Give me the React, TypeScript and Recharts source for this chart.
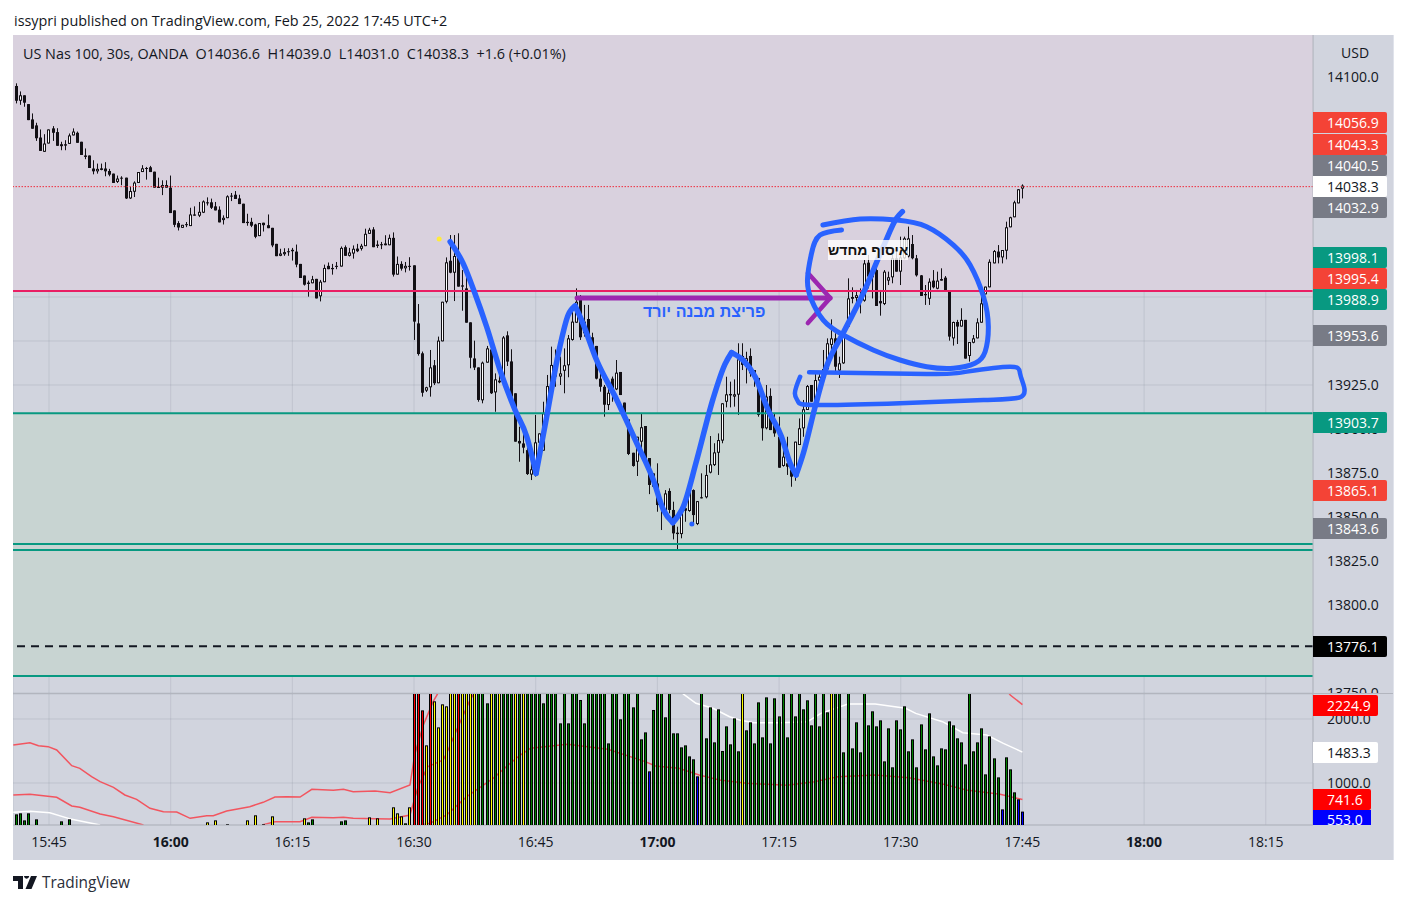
import { Bar, CartesianGrid, ComposedChart, Line, ReferenceArea, ReferenceDot, ReferenceLine, XAxis, YAxis } from 'recharts'

const FONT = "'Open Sans', Roboto, sans-serif"

// one slot = one 30s candle, slot 0 = 15:45
const FIRST_SLOT = -8
const X_DOMAIN = [-8.876, 311.64]
const TIME_TICKS = [0, 30, 60, 90, 120, 150, 180, 210, 240, 270, 300]
const TIME_LABELS = ['15:45', '16:00', '16:15', '16:30', '16:45', '17:00', '17:15', '17:30', '17:45', '18:00', '18:15']
const BOLD_TIMES = ['16:00', '17:00', '18:00']
const PRICE_TICKS = [13750, 13775, 13800, 13825, 13850, 13875, 13900, 13925, 13950, 13975, 14000, 14025, 14050, 14075, 14100]
const PRICE_DOMAIN = [13750, 14123.86]
const VOL_TICKS = [1000, 2000]
const VOL_DOMAIN = [343.75, 2390.6]

// open, high, low, close
const CANDLES = [
  [14094.9, 14096.4, 14085, 14086.5], [14086.5, 14091.8, 14084.2, 14089.6], [14089.6, 14089.6, 14083.1, 14085.4], [14084.6, 14084.6, 14075.5, 14075.5],
  [14075.9, 14079.3, 14070.6, 14070.6], [14072.5, 14074, 14063.7, 14065.2], [14065.6, 14070.2, 14058, 14058], [14057.5, 14067.5, 14057.5, 14062.2],
  [14062.2, 14070.2, 14062.2, 14070.2], [14070.8, 14072.1, 14063.7, 14068.3], [14068.7, 14070.9, 14060.9, 14060.9], [14061.8, 14063.2, 14058.4, 14060.7],
  [14061.8, 14064.1, 14058.4, 14061], [14062, 14067.9, 14062, 14066.8], [14066.8, 14070.8, 14066.8, 14069], [14068.3, 14069, 14062.6, 14062.6],
  [14063.2, 14063.2, 14055.7, 14055.7], [14055.4, 14059.4, 14053.3, 14054.6], [14055.4, 14055.4, 14048.3, 14048.3], [14048, 14052.7, 14044.7, 14046.4],
  [14046.4, 14050.8, 14045.1, 14047.8], [14048.1, 14050.8, 14047, 14047.2], [14048, 14051.6, 14043.6, 14046.4], [14046.6, 14047.8, 14043.6, 14044.5],
  [14045.1, 14045.1, 14039.8, 14039.8], [14040.4, 14044, 14039.8, 14042.3], [14042.8, 14043.6, 14038.5, 14042.3], [14042.8, 14042.8, 14030.7, 14031],
  [14031, 14037.5, 14030.7, 14035.2], [14034.8, 14040.7, 14031.8, 14040], [14039.8, 14046, 14039.8, 14046], [14046, 14049.9, 14046, 14048.1],
  [14048.3, 14048.9, 14041.7, 14047.8], [14048.7, 14049.5, 14046, 14046], [14046.2, 14046.2, 14037.1, 14037.1], [14037.5, 14042.8, 14037.1, 14037.1],
  [14037.1, 14041.3, 14032.9, 14038.6], [14038.6, 14041.3, 14037.1, 14037.1], [14037.1, 14044, 14022.7, 14022.7], [14024.2, 14024.2, 14014.7, 14016],
  [14017, 14018.1, 14012.8, 14014.5], [14014.3, 14016, 14014.3, 14016], [14016.4, 14017.6, 14014.7, 14015.8], [14015.3, 14025.7, 14015.3, 14021.9],
  [14021.9, 14026.5, 14021.2, 14021.2], [14021.2, 14029, 14020.4, 14023.4], [14022.9, 14029.9, 14022.7, 14029.3], [14028.8, 14031.6, 14027, 14028.2],
  [14028.8, 14030.9, 14025, 14025.7], [14026.5, 14029, 14024.2, 14024.2], [14024.6, 14026.5, 14017.4, 14017.4], [14018.7, 14021.4, 14016.2, 14020],
  [14019.8, 14032.8, 14019.8, 14032.2], [14032.6, 14034.1, 14029.5, 14032.2], [14033.1, 14035.2, 14030.7, 14030.7], [14031, 14033.1, 14027.8, 14027.8],
  [14028, 14028, 14017, 14017], [14017.7, 14022.3, 14015.5, 14017], [14017.7, 14020, 14014.7, 14015.5], [14016.2, 14016.6, 14008.4, 14009.2],
  [14009.6, 14017, 14009.6, 14017], [14017.2, 14017.2, 14012.2, 14015.8], [14015.8, 14021.9, 14014.1, 14014.1], [14014.3, 14014.3, 14003.3, 14004.3],
  [14005.2, 14005.2, 13998.2, 13998.2], [13998.4, 14002.4, 13998.2, 13999.7], [13999.3, 14002.7, 13998.4, 14000.5], [14001, 14002.7, 13998.4, 14000.5],
  [14001.8, 14002.9, 13995.7, 14001], [14000.8, 14004.8, 13991.9, 13993.4], [13993.8, 13993.8, 13985.8, 13985.8], [13987.2, 13987.2, 13981.5, 13982],
  [13983.2, 13984.3, 13975.2, 13982.4], [13982.8, 13987, 13982.8, 13985.1], [13985.3, 13985.3, 13974.2, 13974.2], [13975.4, 13984.7, 13972.5, 13983.7],
  [13983.4, 13993.4, 13983.4, 13991.5], [13992.7, 13994.6, 13990.8, 13990.8], [13991.5, 13993.8, 13987.7, 13990.8], [13992.7, 13994.9, 13990.8, 13992.1],
  [13992.3, 14003.7, 13992.3, 14002.9], [14003.3, 14004.3, 13998.4, 13998.4], [13998.4, 14002.9, 13998, 14000.3], [13999.7, 14004.3, 13996.8, 14002.4],
  [14002.5, 14005.2, 14000.5, 14001], [14002.4, 14005.2, 14001.4, 14004.1], [14003.9, 14013.8, 14003.9, 14010.9], [14010.9, 14014.3, 14010.9, 14013.2],
  [14013.4, 14014.7, 14003.3, 14003.3], [14004.8, 14007.1, 14002.9, 14004], [14005, 14006.3, 14002.2, 14004.4], [14005.4, 14010.1, 14004.4, 14004.4],
  [14004.4, 14010.5, 14004.4, 14008.6], [14008.6, 14011.7, 13986.6, 13987.7], [13987.7, 13998, 13987.7, 13993.8], [13993.8, 13995.3, 13990, 13991.1],
  [13991.3, 13994.9, 13989, 13992.7], [13992.7, 13997.6, 13990, 13992.1], [13993, 13993, 13950.6, 13961], [13960, 13971, 13941.7, 13942.6],
  [13943, 13944, 13918.4, 13920.6], [13921.8, 13924, 13921, 13923.7], [13923.7, 13944.9, 13918.4, 13935], [13936.2, 13939.2, 13925, 13926],
  [13926, 13952.5, 13926, 13950.2], [13949.8, 13972.3, 13949.8, 13972.3], [13972.3, 13997.5, 13971.4, 13994.7], [13995.6, 14010.2, 13988.5, 13988.8],
  [13988.8, 14010.2, 13972.7, 13998.3], [13998.3, 14011.2, 13980.9, 13980.9], [13981.6, 13990.3, 13967.2, 13980.9], [13979.9, 13987.5, 13960.4, 13960.4],
  [13960.6, 13960.6, 13934.5, 13940.5], [13940.1, 13950.2, 13933.5, 13934.9], [13935, 13935, 13915.5, 13916.5], [13916.3, 13938.3, 13914.6, 13937.7],
  [13937.7, 13947.2, 13937.7, 13945.8], [13945.2, 13945.2, 13919.9, 13920.3], [13920.8, 13931.6, 13909.8, 13928.2], [13926.5, 13937.3, 13926, 13927.5],
  [13928.2, 13952.8, 13927.8, 13952], [13953.2, 13955.5, 13935.8, 13938.3], [13938.4, 13945.3, 13918.4, 13918.4], [13920.3, 13920.3, 13892.8, 13892.8],
  [13893.2, 13901.3, 13881.4, 13891.8], [13891.8, 13897.5, 13886.2, 13889.4], [13888, 13890, 13873.9, 13874.4], [13874.1, 13880.5, 13871, 13877.1],
  [13873.9, 13908, 13873, 13892.4], [13892.2, 13897.5, 13892.2, 13897.5], [13887.7, 13915.5, 13887.7, 13908.9], [13908.9, 13930.7, 13908.5, 13924.4],
  [13924, 13946.8, 13923.6, 13936.4], [13937.3, 13945.2, 13924, 13929.8], [13929.8, 13941.1, 13925, 13931.6], [13933.1, 13945.8, 13920.3, 13936.2],
  [13936.2, 13953.4, 13929.4, 13951.5], [13950.6, 13968.6, 13950.2, 13961], [13960.4, 13979.9, 13960.4, 13972.3], [13973.3, 13976.1, 13950.6, 13952.1],
  [13954.4, 13970.5, 13952.5, 13961], [13962.5, 13970.5, 13950.6, 13952.1], [13952.1, 13954.7, 13944.9, 13945.6], [13947.2, 13947.2, 13928.2, 13928.6],
  [13928.6, 13931.6, 13921.2, 13924], [13924, 13925, 13907, 13913.8], [13913.6, 13924, 13910.8, 13920.6], [13928.6, 13929.8, 13915.5, 13919.9],
  [13922.5, 13939.2, 13922.1, 13932], [13932.4, 13932.4, 13919.3, 13919.3], [13915, 13915, 13908.5, 13908.5], [13905.5, 13905.5, 13885.2, 13885.8],
  [13886.5, 13886.5, 13878.6, 13879], [13881.4, 13895.6, 13873.3, 13895.6], [13892.8, 13908.9, 13886.2, 13901], [13901.7, 13901.7, 13882.4, 13883.3],
  [13883.5, 13883.5, 13863, 13868.2], [13874.8, 13874.8, 13867.2, 13867.2], [13869.1, 13880.5, 13853, 13856.8], [13857.4, 13859.3, 13842.6, 13856.6],
  [13853.6, 13865.3, 13853, 13863.4], [13864.8, 13866.3, 13852.1, 13854], [13854, 13858.7, 13837.3, 13840.7], [13841.1, 13844.5, 13831.6, 13840.3],
  [13840.3, 13854, 13837.9, 13854], [13855, 13863.4, 13847.3, 13853.6], [13853.4, 13868.2, 13853, 13864.2], [13865.3, 13865.7, 13845.4, 13851.1],
  [13846, 13859, 13845.4, 13859], [13861.2, 13874.8, 13860.6, 13860.6], [13861.2, 13879.5, 13860.6, 13873.9], [13875.2, 13896, 13874.8, 13879.9],
  [13879.5, 13891.9, 13879, 13886.7], [13886.5, 13897.5, 13873.9, 13893.7], [13893.4, 13914.6, 13891.9, 13914.6], [13915.5, 13929.7, 13912.3, 13919.7],
  [13919.9, 13926.9, 13912.3, 13919.1], [13918.4, 13928.2, 13912.7, 13919.7], [13919.5, 13948.7, 13908, 13939.6], [13941.5, 13948.7, 13933.5, 13936.4],
  [13935.4, 13943.9, 13925.9, 13940.2], [13941.5, 13945.8, 13929.7, 13931.6], [13933.5, 13933.5, 13924, 13928.8], [13929, 13929, 13907, 13908],
  [13918.4, 13918.4, 13893.4, 13900.4], [13900.4, 13925, 13899.8, 13918.4], [13918.8, 13923.1, 13899.4, 13899.4], [13905.1, 13908.9, 13895.6, 13897.5],
  [13895.6, 13907, 13878, 13878], [13879, 13890, 13878.6, 13884.3], [13880.5, 13895.6, 13873.9, 13878.6], [13876.7, 13880.5, 13867.2, 13872.9],
  [13875.8, 13892.8, 13870.6, 13892.8], [13890.9, 13906, 13890.9, 13900.4], [13900.4, 13916.5, 13895.6, 13911.2], [13910.8, 13925, 13910.8, 13924.4],
  [13925, 13925, 13915.5, 13915.5], [13916.5, 13931.6, 13915.5, 13927.8], [13927.5, 13931.6, 13922.2, 13929.7], [13928.8, 13944.9, 13927.8, 13934.1],
  [13933.9, 13951.5, 13933.5, 13948.7], [13947.8, 13962.3, 13941.1, 13951.5], [13951.5, 13954.4, 13932.8, 13935.4], [13933.2, 13941.1, 13929, 13937.3],
  [13937.3, 13954.4, 13937, 13954.4], [13958.2, 13985.6, 13957.8, 13974.2], [13975, 13980.5, 13971.4, 13974], [13974.4, 13979, 13971.4, 13976],
  [13975.6, 13979.9, 13965.7, 13972.3], [13972.9, 13996, 13972.3, 13994.1], [13994.5, 13998.9, 13979.9, 13986.6], [13986.2, 13990.3, 13974.2, 13988.5],
  [13990.3, 13992.2, 13969.9, 13969.9], [13972.7, 13979, 13964.4, 13971.4], [13971, 13990.3, 13970.4, 13989.4], [13984.3, 13989.4, 13981.8, 13986.2],
  [13986.2, 13998.9, 13982.8, 13997], [13997, 14001.7, 13989.4, 13989.4], [13989.4, 14009.3, 13981.8, 13997.5], [13997, 14009.3, 13996.4, 14008.3],
  [13998, 14015, 13997.5, 14008.3], [14005.1, 14010.2, 13996.4, 13997], [13997, 13998.9, 13986.6, 13987.3], [13987.3, 13987.5, 13975.6, 13975.6],
  [13976.7, 13981.8, 13970.5, 13976], [13974, 13985.6, 13970.5, 13983.7], [13984.3, 13990.3, 13979.9, 13980.5], [13979.7, 13989.4, 13979.4, 13984.3],
  [13985.2, 13991.3, 13984.3, 13984.3], [13986, 13986.9, 13978, 13978], [13978, 13978, 13950.2, 13952.5], [13951.5, 13961, 13947.4, 13960.8],
  [13960.8, 13962, 13948.3, 13958.2], [13958.2, 13968.6, 13958.2, 13962], [13962, 13962, 13940, 13940], [13941.5, 13949.4, 13938.3, 13949.4],
  [13949, 13953.4, 13948.7, 13951.5], [13951.5, 13962.9, 13951.5, 13960.6], [13960.4, 13981.8, 13960.4, 13971.4], [13976.5, 13980.9, 13976.5, 13980.9],
  [13980.5, 13996.4, 13980.5, 13995], [13994.1, 14001.7, 13994.1, 14001.1], [14000.8, 14004.5, 13994.1, 13997.5], [13997.5, 14001.7, 13994.1, 14001.7],
  [14001.3, 14017.8, 13996.4, 14014.6], [14014.6, 14020.6, 14014.6, 14020.3], [14020.3, 14029.7, 14020.3, 14028.8], [14028.2, 14036.2, 14028.2, 14036.2],
  [14036.6, 14039, 14031, 14038.3],
]

// slot, volume: the quiet stretch before the 16:30 open
const VOL_EARLY = [
  [-8, 510], [-7, 526], [-6, 416], [-5, 526], [-3, 432], [3, 401], [5, 432], [39, 385], [41, 416], [44, 354], [49, 416], [51, 495], [53, 354], [55, 479],
  [63, 448], [64, 385], [65, 432], [72, 401], [73, 416], [79, 463], [81, 448], [85, 620], [86, 526], [87, 479], [88, 370], [89, 620],
]
// every slot from 16:30 on; 2600 runs off the top of the pane
const VOL_LATE_START = 90
const VOL_LATE = [
  2600, 2600, 2135, 1588, 2600, 2276, 1869, 2229, 2198, 2600, 2600, 2600, 2600, 2600, 2600, 2600, 2600, 2600, 2245, 2600,
  2600, 2600, 2600, 2600, 2600, 2600, 2600, 2600, 2600, 2600, 2600, 2600, 2245, 2600, 2600, 2600, 1932, 2600, 1932, 2600,
  2600, 2297, 1932, 2600, 2600, 2600, 2600, 2600, 1619, 2600, 2600, 1995, 2600, 2600, 2182, 2600, 1682, 1791, 1182, 2141,
  2600, 2600, 2026, 2600, 1776, 1776, 1557, 1588, 1416, 1370, 1104, 2600, 1698, 2182, 1635, 2151, 1500, 1885, 1604, 2010,
  1495, 2600, 1823, 1948, 1619, 2260, 1713, 2338, 1619, 2323, 2041, 2600, 1713, 2600, 2041, 2600, 2151, 2292, 1901, 2600,
  1885, 2600, 2104, 2600, 2600, 2600, 1479, 2600, 1541, 1948, 1479, 2600, 1901, 2120, 1885, 1979, 1338, 1854, 1245, 1979,
  1838, 2198, 1495, 1682, 1245, 1916, 1526, 2088, 1416, 1276, 1541, 1526, 1963, 1901, 1698, 1635, 1291, 2600, 1495, 1635,
  1854, 1135, 1729, 1385, 1088, 588, 1401, 1213, 854, 745, 553,
]
const VOL_YELLOW = [39, 41, 49, 51, 55, 63, 79, 81, 85, 86, 87, 89, 93, 95, 96, 97, 98, 99, 100, 102, 103, 104, 105, 109, 111, 115, 117, 171, 193]
const VOL_RED = [90, 91, 92, 94, 101]
const VOL_BLUE = [148, 160, 235, 239, 240]

// volume moving-average bands: slot, value
const BAND_TOP = [[-8.8, 1594], [-4.7, 1630], [-2.6, 1583], [-0.2, 1568], [1.9, 1516], [5.6, 1271], [7.6, 1229], [10.5, 1099], [12.6, 1021], [15.9, 932], [18.7, 813], [21.6, 745], [24.9, 604], [28.2, 552], [31.5, 547], [34.8, 448], [38.9, 490], [40.5, 490], [43.8, 563], [49.5, 630], [52.8, 698], [55.7, 781], [58.6, 787], [61.9, 781], [64.8, 901], [70.1, 886], [72.6, 901], [75, 865], [80.4, 875], [84.1, 849], [89, 969], [90.2, 1453], [92.3, 1906], [94.7, 2271], [95.7, 2380], [97.2, 2600]]
const BAND_TOP_END = [[236.5, 2420], [237, 2375], [240, 2224.9]]
const BAND_MID = [[-8.8, 812], [-4.7, 823], [1.9, 776], [5.6, 641], [7.6, 620], [12.6, 516], [15.9, 474], [23.3, 344]]
const BAND_MID_RISE = [[52.8, 349], [55.7, 396], [61.9, 396], [64.8, 463], [70.1, 458], [72.6, 463], [75, 448], [80.4, 443], [84.1, 438], [89, 500], [91, 943], [93.4, 1255], [97.2, 1359], [98.4, 1516], [100.5, 1828], [103.8, 2297], [105, 2420]]
const BAND_LOW = [[92, 344], [93.9, 370], [98, 500], [103, 786], [109.5, 1073], [113.7, 1307], [116.2, 1437], [118.7, 1542], [127.8, 1604], [137.8, 1526], [147, 1334], [149.5, 1266], [155.3, 1229], [160.3, 1125], [165.3, 1047], [172, 995], [182, 963], [188.7, 1021], [194.5, 1099], [203.7, 1125], [212, 1083], [220.3, 984], [226.2, 891], [234.5, 823], [240, 741.6]]
const BAND_WHITE = [[-8.8, 542], [-4.7, 557], [0.2, 536], [5.6, 432], [12.6, 344]]
const BAND_WHITE_END = [[155.5, 2440], [156.6, 2380], [159.5, 2245], [163.7, 2167], [167.8, 2036], [170.3, 1984], [173.7, 1943], [180.3, 1943], [187, 1958], [190.3, 2088], [197, 2234], [203.7, 2234], [211.2, 2167], [213.7, 2088], [220.3, 1958], [225.3, 1786], [231.2, 1750], [235.3, 1619], [240, 1483.3]]

// hand drawn ink on the chart, in slot / price
const INK_WAVE_1 = [[98.9, 14006.4], [102.1, 13994.1], [105, 13977.1], [107.9, 13958.1], [111.2, 13933.5], [114.9, 13910.8], [117.8, 13895.6], [120.1, 13874.8]]
const INK_WAVE_2 = [[120.1, 13874.8], [122.7, 13907], [125.6, 13943], [128, 13964.8], [129.7, 13969.9]]
const INK_WAVE_3 = [[129.7, 13969.9], [131.3, 13961.9], [135, 13939.2], [140, 13916.5], [144.9, 13892], [149, 13871], [151.5, 13854], [153.8, 13846.8]]
const INK_WAVE_4 = [[153.8, 13846.8], [156.4, 13855.9], [159.7, 13882.4], [163.7, 13917], [166.7, 13937], [168.3, 13943.4]]
const INK_WAVE_5 = [[168.3, 13943.4], [171.1, 13939.2], [174.1, 13929.7], [177.3, 13910.8], [180.6, 13895.6], [182.7, 13880.7], [184.2, 13873.9]]
const INK_WAVE_6 = [[184.2, 13873.9], [186, 13886.4], [188.9, 13912.7], [191.7, 13935.4], [195.8, 13954.5], [200.8, 13977.3], [205.7, 14003.6], [209, 14019.9], [210.4, 14023.5]]
const INK_CIRCLE = [[190.8, 14015.9], [200, 14019.3], [209, 14018.7], [216.4, 14014.9], [223, 14004.5], [227.1, 13993.2], [230.4, 13975.2], [231.6, 13958.1], [230.8, 13943.9], [228.3, 13937.3], [223, 13934.5], [216.4, 13935.4], [209.8, 13939.2], [203.2, 13944.9], [195.8, 13953.4], [190.9, 13961.9], [188, 13973.3], [187, 13984.7], [188, 13999.8], [190.1, 14010.2], [195.4, 14013.1]]
const INK_BOX = [[187.4, 13932.2], [216.4, 13931.2], [226.3, 13932.6], [236.9, 13935.4], [239.4, 13931.6], [240.4, 13924], [239.4, 13918], [230.4, 13916.5], [209.8, 13914.6], [188.9, 13913.6], [184.7, 13915.5], [183.9, 13920.3], [185.2, 13929.7]]
const INK_ARROW = [[130.2, 13974.4], [192.6, 13974.4]]
const INK_HEAD = [[187.1, 13988.6], [192.6, 13974.4], [187.1, 13960.2]]
const INK_BLUE_DOT = [158.5, 13846]
const INK_YELLOW_DOT = [96.2, 14008]

// horizontal levels
const LEVEL_PINK = 13978.4
const LEVEL_GREEN = [13909, 13834.7, 13831.2, 13759.7]
const LEVEL_DASHED = 13776.5
const LEVEL_LAST = 14037.7

const PRICE_TAGS = ['14056.9', '14043.3', '14040.5', '14038.3', '14032.9', '13998.1', '13995.4', '13988.9', '13953.6', '13903.7', '13865.1', '13843.6', '13776.1']
const PRICE_TAG_KIND = ['red', 'red', 'gray', 'white', 'gray', 'teal', 'red', 'teal', 'gray', 'teal', 'red', 'gray', 'black']
const PRICE_TAG_Y = [122.5, 144.5, 165.5, 186.5, 207.5, 257.5, 278.5, 299.5, 335.5, 422.5, 490.5, 528.5, 646.5]
const VOL_TAGS = ['2224.9', '1483.3', '741.6']
const VOL_TAG_KIND = ['pure', 'white', 'pure']
const VOL_TAG_Y = [705.5, 752.5, 799.5]
const VOL_TAG_W = [65, 65, 58]

const TAG_COLORS: Record<string, string[]> = {
  red: ['#f44336', '#fff'], gray: ['#787b86', '#fff'], white: ['#fff', '#131722'], teal: ['#089981', '#fff'],
  black: ['#000', '#fff'], pure: ['#ff0000', '#fff'],
}

const candleRows = CANDLES.map((c, i) => ({ t: i + FIRST_SLOT, open: c[0], high: c[1], low: c[2], close: c[3] }))
const volRows = [
  ...VOL_EARLY.map(([t, v]) => ({ t, v })),
  ...VOL_LATE.map((v, i) => ({ t: i + VOL_LATE_START, v })),
].map((r) => ({
  ...r,
  color: VOL_RED.includes(r.t) ? '#ff0000' : VOL_BLUE.includes(r.t) ? '#0000ff' : VOL_YELLOW.includes(r.t) ? '#ffff00' : '#008000',
}))
const rows = (pts: number[][]) => pts.map(([t, v]) => ({ t, v }))

function CandleShape(props: any) {
  const { x, y, width, height, payload } = props
  const cx = Math.floor(x + width / 2)
  const perPoint = height / Math.max(payload.high - payload.low, 0.01)
  const top = y + (payload.high - Math.max(payload.open, payload.close)) * perPoint
  const bodyH = Math.max(Math.abs(payload.open - payload.close) * perPoint, 1)
  const up = payload.close >= payload.open
  return (
    <g>
      <rect x={cx} y={y} width={1} height={height} fill="#131015" />
      <rect x={cx - 1} y={top} width={3} height={bodyH} fill="#131015" />
      {up && bodyH > 2 && <rect x={cx} y={top + 1} width={1} height={bodyH - 2} fill="#fff" />}
    </g>
  )
}

function VolumeShape(props: any) {
  const { x, y, width, height, payload } = props
  const cx = Math.floor(x + width / 2)
  return (
    <g>
      <rect x={cx - 1} y={y} width={3} height={height} fill="#000" />
      <rect x={cx} y={y + 1} width={1} height={Math.max(height - 1, 0)} fill={payload.color} />
    </g>
  )
}

function TimeTick({ x, y, payload }: any) {
  const label = TIME_LABELS[TIME_TICKS.indexOf(payload.value)]
  return (
    <text x={x} y={y + 14} textAnchor="middle" fontFamily={FONT} fontSize={14} fill="#131722" fontWeight={BOLD_TIMES.includes(label) ? 700 : 400}>
      {label}
    </text>
  )
}

function Ink({ pts, color = '#2962ff', width = 5.5, type = 'natural' }: any) {
  return <Line key={pts[0].join()} data={rows(pts)} dataKey="v" type={type} stroke={color} strokeWidth={width} strokeLinecap="round" strokeLinejoin="round" dot={false} activeDot={false} isAnimationActive={false} />
}

function Tag({ text, kind, y, width = 74 }: any) {
  const [bg, fg] = TAG_COLORS[kind]
  return (
    <div style={{ position: 'absolute', left: 1313, top: y - 10.5, width, height: 21, background: bg, color: fg, font: `14px ${FONT}`, lineHeight: '21px', paddingLeft: 14, boxSizing: 'border-box', borderRadius: '0 2px 2px 0', whiteSpace: 'nowrap' }}>
      {text}
    </div>
  )
}

export default function App() {
  return (
    <div style={{ position: 'absolute', left: 0, top: 0, width: 1406, height: 904, background: '#fff', overflow: 'hidden', fontFamily: FONT, color: '#131722' }}>
      <div style={{ position: 'absolute', left: 14, top: 11, fontSize: 14.4 }}>issypri published on TradingView.com, Feb 25, 2022 17:45 UTC+2</div>
      <div style={{ position: 'absolute', left: 13, top: 35, width: 1380, height: 825, background: '#d1d4de', boxShadow: '1px 0 0 #e0e3eb' }} />

      <div style={{ position: 'absolute', left: 13, top: 35 }}>
        <ComposedChart width={1380} height={658} data={candleRows} margin={{ top: 0, right: 0, bottom: 0, left: 0 }}>
          <ReferenceArea y1={LEVEL_PINK} y2={PRICE_DOMAIN[1]} fill="#d9d1de" fillOpacity={1} stroke="none" />
          <ReferenceArea y1={LEVEL_GREEN[3]} y2={LEVEL_GREEN[0]} fill="#c8d4d2" fillOpacity={1} stroke="none" />
          <CartesianGrid stroke="#6a6e80" strokeOpacity={0.16} />
          <XAxis type="number" dataKey="t" domain={X_DOMAIN} ticks={TIME_TICKS} allowDataOverflow hide />
          <YAxis orientation="right" width={80} domain={PRICE_DOMAIN} ticks={PRICE_TICKS} interval={0} allowDataOverflow tickLine={false} tickMargin={8} stroke="#b2b5be" tick={{ fill: '#131722', fontSize: 14, fontFamily: FONT }} tickFormatter={(v: number) => v.toFixed(1)} />
          <Bar dataKey={(d: any) => [d.low, d.high]} barSize={3} shape={CandleShape} isAnimationActive={false} />
          <ReferenceLine y={LEVEL_LAST} stroke="#ef2b3c" strokeDasharray="1.5 1.5" strokeWidth={1} />
          <ReferenceLine y={LEVEL_PINK} stroke="#e91e63" strokeWidth={2} />
          {LEVEL_GREEN.map((l) => <ReferenceLine key={l} y={l} stroke="#089981" strokeWidth={2} />)}
          <ReferenceLine y={LEVEL_DASHED} stroke="#131722" strokeWidth={2} strokeDasharray="8 6" />
          {Ink({ pts: INK_ARROW, color: '#9c27b0', type: 'linear', width: 5 })}
          {Ink({ pts: INK_HEAD, color: '#9c27b0', type: 'linear', width: 4.5 })}
          {[INK_WAVE_1, INK_WAVE_2, INK_WAVE_3, INK_WAVE_4, INK_WAVE_5, INK_WAVE_6].map((w) => Ink({ pts: w, type: 'monotone' }))}
          {Ink({ pts: INK_CIRCLE, width: 5 })}
          {Ink({ pts: INK_BOX, width: 4.5 })}
          <ReferenceDot x={INK_BLUE_DOT[0]} y={INK_BLUE_DOT[1]} r={2.5} fill="#2962ff" stroke="none" />
          <ReferenceDot x={INK_YELLOW_DOT[0]} y={INK_YELLOW_DOT[1]} r={2.5} fill="#ffeb3b" stroke="none" />
        </ComposedChart>
      </div>

      <div style={{ position: 'absolute', left: 13, top: 694 }}>
        <ComposedChart width={1380} height={166} data={volRows} margin={{ top: 0, right: 0, bottom: 0, left: 0 }}>
          <CartesianGrid stroke="#6a6e80" strokeOpacity={0.16} />
          <XAxis type="number" dataKey="t" domain={X_DOMAIN} ticks={TIME_TICKS} interval={0} allowDataOverflow height={35} tickLine={false} stroke="#b2b5be" tick={TimeTick} />
          <YAxis orientation="right" width={80} domain={VOL_DOMAIN} ticks={VOL_TICKS} interval={0} allowDataOverflow tickLine={false} tickMargin={8} stroke="#b2b5be" tick={{ fill: '#131722', fontSize: 14, fontFamily: FONT }} tickFormatter={(v: number) => v.toFixed(1)} />
          {[BAND_TOP, BAND_TOP_END, BAND_MID, BAND_MID_RISE, BAND_LOW].map((b, i) => (
            <Line key={i} data={rows(b)} dataKey="v" type="linear" stroke="#f2555f" strokeWidth={1.5} dot={false} activeDot={false} isAnimationActive={false} />
          ))}
          {[BAND_WHITE, BAND_WHITE_END].map((b, i) => (
            <Line key={i} data={rows(b)} dataKey="v" type="linear" stroke="#ffffff" strokeWidth={1.5} dot={false} activeDot={false} isAnimationActive={false} />
          ))}
          <Bar dataKey="v" barSize={3} shape={VolumeShape} isAnimationActive={false} zIndex={500} />
        </ComposedChart>
      </div>

      <div style={{ position: 'absolute', left: 13, top: 693, width: 1380, height: 1, background: '#b2b5be' }} />
      <div style={{ position: 'absolute', left: 23, top: 44, fontSize: 14.4, whiteSpace: 'pre' }}>US Nas 100, 30s, OANDA  O14036.6  H14039.0  L14031.0  C14038.3  +1.6 (+0.01%)</div>
      <div style={{ position: 'absolute', left: 1341, top: 43, fontSize: 14 }}>USD</div>

      <div style={{ position: 'absolute', left: 643, top: 303, width: 122, textAlign: 'center', color: '#2962ff', font: "700 16px 'Liberation Sans'", whiteSpace: 'nowrap' }}>פריצת מבנה יורד</div>
      <div style={{ position: 'absolute', left: 828, top: 240, width: 80, height: 20, textAlign: 'center', background: 'rgba(255,255,255,0.8)', color: '#111', font: "700 14px/20px 'Liberation Sans'", whiteSpace: 'nowrap' }}>איסוף מחדש</div>

      {PRICE_TAGS.map((t, i) => <Tag key={t} text={t} kind={PRICE_TAG_KIND[i]} y={PRICE_TAG_Y[i]} />)}
      {VOL_TAGS.map((t, i) => <Tag key={t} text={t} kind={VOL_TAG_KIND[i]} y={VOL_TAG_Y[i]} width={VOL_TAG_W[i]} />)}
      <div style={{ position: 'absolute', left: 1313, top: 810, width: 58, height: 15, overflow: 'hidden', background: '#0000ff', color: '#fff', font: `14px/20px ${FONT}`, paddingLeft: 14, boxSizing: 'border-box' }}>553.0</div>

      <svg style={{ position: 'absolute', left: 13, top: 876 }} width={26} height={13} viewBox="0 0 26 13">
        <path d="M0 0h10v13H5V5H0z M11 0a2.6 2.6 0 1 1 0 .01z M18 0h6l-5.5 13h-6z" fill="#131722" />
      </svg>
      <div style={{ position: 'absolute', left: 42, top: 872, fontSize: 15.4, color: '#2a2e39' }}>TradingView</div>
    </div>
  )
}
